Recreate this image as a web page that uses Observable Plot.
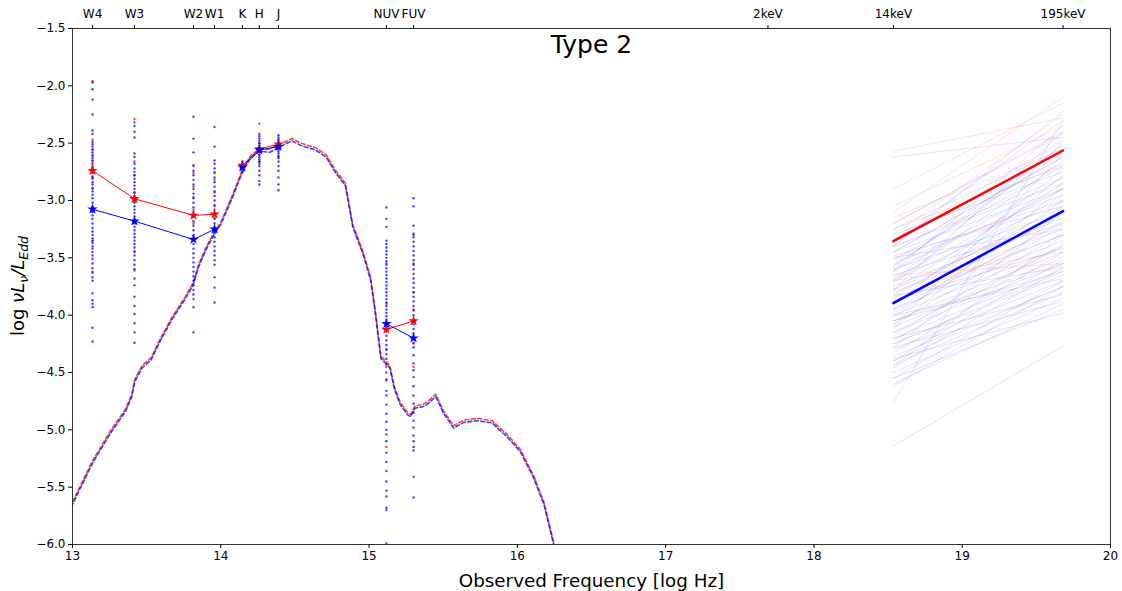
<!DOCTYPE html>
<html>
<head>
<meta charset="utf-8">
<script src="https://cdn.jsdelivr.net/npm/d3@7"></script>
<script src="https://cdn.jsdelivr.net/npm/@observablehq/plot@0.6"></script>
<style>
  html, body { margin: 0; padding: 0; background: #fff; }
  svg { display: block; }
</style>
</head>
<body>
<div id="chart"></div>
<script>
// ---------- data ----------
const bands = ["W4", "W3", "W2", "W1", "K", "H", "J", "NUV", "FUV"];
const bandNu = [13.135, 13.418, 13.816, 13.958, 14.146, 14.26, 14.389, 15.117, 15.30];
const bandGroup = ["WISE", "WISE", "WISE", "WISE", "2MASS", "2MASS", "2MASS", "GALEX", "GALEX"];
const xrayLabels = ["2keV", "14keV", "195keV"];
const xrayNu = [17.69, 18.536, 19.68];

const redMedian  = [-2.74, -2.985, -3.13, -3.12, -2.695, -2.55, -2.51, -4.125, -4.05];
const blueMedian = [-3.076, -3.18, -3.34, -3.25, -2.71, -2.56, -2.53, -4.075, -4.20];

// individual photometric points per band
const bluePoints = {
  W4: [-1.97,-2.03,-2.12,-2.25,-2.39,-2.42,-2.49,-2.51,-2.53,-2.56,-2.58,-2.61,-2.63,-2.65,-2.68,-2.70,-2.72,-2.76,-2.79,-2.81,-2.84,-2.86,-2.89,-2.92,-2.95,-2.98,-3.02,-3.06,-3.10,-3.13,-3.16,-3.20,-3.24,-3.27,-3.30,-3.33,-3.35,-3.37,-3.40,-3.42,-3.45,-3.48,-3.51,-3.55,-3.59,-3.63,-3.67,-3.70,-3.81,-3.87,-3.90,-3.93,-4.11,-4.23],
  W3: [-2.35,-2.40,-2.45,-2.59,-2.62,-2.68,-2.72,-2.75,-2.78,-2.81,-2.84,-2.87,-2.90,-2.93,-2.96,-2.99,-3.02,-3.05,-3.08,-3.11,-3.14,-3.17,-3.20,-3.23,-3.26,-3.29,-3.32,-3.35,-3.38,-3.41,-3.45,-3.48,-3.52,-3.56,-3.60,-3.68,-3.74,-3.84,-3.92,-3.99,-4.07,-4.15,-4.24],
  W2: [-2.27,-2.46,-2.58,-2.70,-2.74,-2.78,-2.82,-2.86,-2.90,-2.94,-2.98,-3.02,-3.06,-3.10,-3.14,-3.18,-3.22,-3.26,-3.30,-3.34,-3.38,-3.42,-3.46,-3.50,-3.54,-3.58,-3.62,-3.66,-3.70,-3.74,-3.78,-3.82,-3.86,-3.93,-4.15],
  W1: [-2.36,-2.53,-2.65,-2.68,-2.72,-2.76,-2.80,-2.84,-2.88,-2.92,-2.96,-3.00,-3.04,-3.08,-3.12,-3.16,-3.20,-3.24,-3.28,-3.32,-3.36,-3.40,-3.44,-3.48,-3.52,-3.56,-3.67,-3.76,-3.89],
  K:  [-2.66,-2.69,-2.71,-2.73,-2.75],
  H:  [-2.42,-2.44,-2.46,-2.48,-2.50,-2.52,-2.54,-2.56,-2.58,-2.60,-2.62,-2.64,-2.66,-2.68,-2.70,-2.74,-2.78,-2.83,-2.86],
  J:  [-2.43,-2.45,-2.47,-2.49,-2.51,-2.53,-2.55,-2.57,-2.59,-2.61,-2.63,-2.66,-2.70,-2.74,-2.80,-2.86,-2.91],
  NUV:[-3.06,-3.16,-3.23,-3.35,-3.38,-3.41,-3.44,-3.47,-3.50,-3.53,-3.56,-3.59,-3.62,-3.65,-3.68,-3.71,-3.74,-3.77,-3.80,-3.83,-3.86,-3.89,-3.92,-3.95,-3.98,-4.01,-4.04,-4.07,-4.10,-4.14,-4.18,-4.22,-4.26,-4.30,-4.34,-4.38,-4.43,-4.50,-4.56,-4.66,-4.70,-4.78,-4.86,-4.93,-5.00,-5.04,-5.10,-5.20,-5.28,-5.36,-5.45,-5.53,-5.58,-5.68,-5.70,-5.99],
  FUV:[-2.98,-3.05,-3.22,-3.29,-3.32,-3.36,-3.40,-3.44,-3.48,-3.52,-3.56,-3.60,-3.64,-3.68,-3.72,-3.76,-3.80,-3.84,-3.88,-3.92,-3.96,-4.00,-4.04,-4.08,-4.12,-4.16,-4.20,-4.24,-4.28,-4.35,-4.42,-4.48,-4.54,-4.62,-4.70,-4.77,-4.85,-4.92,-4.98,-5.05,-5.10,-5.15,-5.18,-5.41,-5.59]
};
const redPoints = {
  W4: [-1.96,-2.47,-2.55,-2.60,-2.66,-2.71,-2.75,-2.80,-2.90,-3.05,-3.35,-3.62],
  W3: [-2.29,-2.32,-2.66,-2.78,-2.93,-3.01,-3.18,-3.44,-3.61],
  W2: [-2.69,-2.76,-2.88,-2.97,-3.08,-3.20,-3.31],
  W1: [-2.75,-2.82,-2.93,-3.05,-3.15],
  K:  [-2.68,-2.70],
  H:  [-2.33,-2.50,-2.60,-2.66],
  J:  [-2.47,-2.55,-2.62],
  NUV:[-3.55,-3.90,-4.12,-4.30,-4.45,-4.57,-5.15],
  FUV:[-3.30,-3.55,-3.80,-3.95,-4.05,-4.25,-4.45]
};

// template SED (log nu, log nuLnu/LEdd)
const modelNu = [13.0,13.135,13.256,13.357,13.40,13.42,13.47,13.53,13.59,13.67,13.76,13.816,13.85,13.90,13.958,14.0,14.08,14.146,14.20,14.26,14.33,14.40,14.48,14.54,14.64,14.71,14.77,14.84,14.89,14.96,15.01,15.04,15.08,15.12,15.14,15.17,15.21,15.26,15.28,15.31,15.36,15.39,15.45,15.50,15.57,15.64,15.73,15.83,15.93,16.02,16.11,16.18,16.245,16.27];
const modelRed  = [-5.63,-5.27,-5.01,-4.82,-4.69,-4.56,-4.44,-4.37,-4.21,-4.02,-3.84,-3.71,-3.56,-3.41,-3.27,-3.19,-2.95,-2.73,-2.61,-2.55,-2.55,-2.51,-2.46,-2.50,-2.54,-2.60,-2.73,-2.85,-3.21,-3.45,-3.67,-3.94,-4.36,-4.41,-4.44,-4.62,-4.76,-4.85,-4.865,-4.79,-4.78,-4.76,-4.69,-4.83,-4.965,-4.915,-4.90,-4.92,-5.04,-5.17,-5.40,-5.635,-5.98,-6.10];
const modelBlue = [-5.65,-5.29,-5.03,-4.84,-4.71,-4.58,-4.46,-4.39,-4.23,-4.04,-3.86,-3.73,-3.58,-3.43,-3.29,-3.21,-2.97,-2.75,-2.63,-2.57,-2.58,-2.53,-2.48,-2.52,-2.56,-2.62,-2.75,-2.87,-3.23,-3.47,-3.69,-3.96,-4.38,-4.43,-4.46,-4.64,-4.78,-4.87,-4.885,-4.81,-4.80,-4.78,-4.71,-4.85,-4.985,-4.935,-4.92,-4.94,-5.06,-5.19,-5.42,-5.655,-6.00,-6.12];

// X-ray: (14keV value, 195keV value) per object
const blueXray = [
  [-2.62,-2.45],[-3.20,-2.40],[-3.25,-2.55],[-3.30,-2.75],[-3.35,-2.30],[-3.40,-2.85],[-3.45,-2.62],[-3.48,-3.05],
  [-3.52,-2.70],[-3.55,-2.95],[-3.58,-2.52],[-3.60,-3.10],[-3.62,-2.80],[-3.65,-3.20],[-3.68,-2.90],[-3.70,-3.00],
  [-3.72,-2.65],[-3.75,-3.15],[-3.78,-2.85],[-3.80,-3.25],[-3.82,-3.05],[-3.85,-2.95],[-3.88,-3.30],[-3.90,-3.12],
  [-3.92,-2.72],[-3.95,-3.35],[-3.98,-3.18],[-4.00,-3.40],[-4.02,-3.00],[-4.05,-3.45],[-4.08,-3.22],[-4.10,-3.50],
  [-4.12,-2.88],[-4.15,-3.55],[-4.18,-3.28],[-4.20,-3.60],[-4.22,-3.38],[-4.25,-3.65],[-4.28,-3.10],[-4.30,-3.70],
  [-4.33,-3.45],[-4.36,-3.75],[-4.40,-3.52],[-4.43,-3.80],[-4.46,-3.58],[-4.50,-3.85],[-4.55,-3.70],[-4.60,-3.90],
  [-4.76,-2.30],[-4.55,-3.95],[-5.14,-4.27],[-3.40,-2.22],[-3.57,-2.58],[-3.78,-2.40],[-4.10,-2.60],[-3.33,-2.68],
  [-3.50,-3.25],[-4.05,-3.62],[-4.38,-3.98],[-4.20,-3.82],[-3.62,-2.35],[-3.87,-3.42],[-4.00,-3.68],[-3.70,-2.50],
  [-4.45,-3.30],[-3.95,-2.78],[-4.28,-3.88],[-3.45,-2.90],[-4.62,-3.75],[-3.83,-3.58]
];
const redXray = [
  [-2.57,-2.28],[-2.90,-2.15],[-3.05,-2.35],[-3.10,-2.10],[-3.15,-2.55],[-3.20,-2.42],[-3.25,-2.70],[-3.30,-2.25],
  [-3.40,-2.80],[-3.45,-2.62],[-3.50,-3.00],[-3.60,-2.90],[-3.70,-3.45],[-3.78,-3.10],[-3.85,-3.30],[-3.95,-3.20],
  [-4.05,-3.55],[-4.15,-3.40],[-4.25,-3.62],[-4.40,-3.75],[-3.35,-2.48],[-3.65,-3.55]
];
const redXrayMedian = [-3.355, -2.564];
const blueXrayMedian = [-3.895, -3.093];

// ---------- tables built from the arrays ----------
const medians = [];
bands.forEach((b, i) => {
  medians.push({nu: bandNu[i], v: redMedian[i], grp: bandGroup[i], type: "red"});
});
bands.forEach((b, i) => {
  medians.push({nu: bandNu[i], v: blueMedian[i], grp: bandGroup[i], type: "blue"});
});
const redDots = [], blueDots = [];
bands.forEach((b, i) => {
  redPoints[b].forEach(v => redDots.push({nu: bandNu[i], v}));
  bluePoints[b].forEach(v => blueDots.push({nu: bandNu[i], v}));
});
const modelR = modelNu.map((nu, i) => ({nu, v: modelRed[i]}));
const modelB = modelNu.map((nu, i) => ({nu, v: modelBlue[i]}));
function xrayRows(pairs, tag) {
  const rows = [];
  pairs.forEach((p, k) => {
    rows.push({nu: xrayNu[1], v: p[0], id: tag + k});
    rows.push({nu: xrayNu[2], v: p[1], id: tag + k});
  });
  return rows;
}
const blueXrows = xrayRows(blueXray, "b");
const redXrows = xrayRows(redXray, "r");
const redXmed = [{nu: xrayNu[1], v: redXrayMedian[0]}, {nu: xrayNu[2], v: redXrayMedian[1]}];
const blueXmed = [{nu: xrayNu[1], v: blueXrayMedian[0]}, {nu: xrayNu[2], v: blueXrayMedian[1]}];

const topTicks = bandNu.concat(xrayNu);
const topLabels = bands.concat(xrayLabels);
const topMap = new Map(topTicks.map((t, i) => [t, topLabels[i]]));
const xTicks = [13, 14, 15, 16, 17, 18, 19, 20];
const yTicks = [-6.0,-5.5,-5.0,-4.5,-4.0,-3.5,-3.0,-2.5,-2.0,-1.5];

const RED = "#ff0000", BLUE = "#0000ff";
const fmtY = d => d.toFixed(1).replace("-", "\u2212");

const plot = Plot.plot({
  width: 1122,
  height: 591,
  marginLeft: 72,
  marginRight: 12,
  marginTop: 28,
  marginBottom: 47,
  style: {fontFamily: "'DejaVu Sans', sans-serif", fontSize: "12px", color: "#000", background: "#fff"},
  x: {domain: [13, 20]},
  y: {domain: [-6, -1.5]},
  marks: [
    // X-ray individual objects
    Plot.line(blueXrows, {x: "nu", y: "v", z: "id", stroke: BLUE, strokeOpacity: 0.12, strokeWidth: 1}),
    Plot.line(redXrows, {x: "nu", y: "v", z: "id", stroke: RED, strokeOpacity: 0.12, strokeWidth: 1}),
    Plot.line(redXmed, {x: "nu", y: "v", stroke: RED, strokeWidth: 2.5}),
    Plot.line(blueXmed, {x: "nu", y: "v", stroke: BLUE, strokeWidth: 2.5}),
    // template SEDs (dashed)
    Plot.line(modelR, {x: "nu", y: "v", stroke: RED, strokeWidth: 1.6, strokeOpacity: 0.75, strokeDasharray: "4,2.5", clip: true}),
    Plot.line(modelB, {x: "nu", y: "v", stroke: BLUE, strokeWidth: 1.6, strokeOpacity: 0.75, strokeDasharray: "4,2.5", strokeDashoffset: 3, clip: true}),
    // individual photometry
    Plot.dot(redDots, {x: "nu", y: "v", r: 1.2, fill: RED, fillOpacity: 0.75, clip: true}),
    Plot.dot(blueDots, {x: "nu", y: "v", r: 1.2, fill: BLUE, fillOpacity: 0.75, clip: true}),
    // medians
    Plot.line(medians, {x: "nu", y: "v", z: d => d.type + d.grp, stroke: d => d.type === "red" ? RED : BLUE, strokeWidth: 1}),
    Plot.dot(medians, {x: "nu", y: "v", symbol: "star", r: 3.3, fill: d => d.type === "red" ? RED : BLUE, stroke: "none"}),
    // frame & axes
    Plot.frame({stroke: "#333", strokeWidth: 1}),
    Plot.axisX(xTicks, {anchor: "bottom", tickSize: 4, tickPadding: 3, fontSize: 12, label: null, tickFormat: d => String(d)}),
    Plot.axisX(topTicks, {anchor: "top", tickSize: 4, tickPadding: 7, fontSize: 12, label: null, tickFormat: d => topMap.get(d)}),
    Plot.axisY(yTicks, {anchor: "left", tickSize: 4, tickPadding: 3, fontSize: 12, label: null, tickFormat: fmtY}),
    // title and x label
    Plot.text(["Type 2"], {frameAnchor: "top", dy: 7, fontSize: 25, fill: "#000"}),
    Plot.text(["Observed Frequency [log Hz]"], {frameAnchor: "bottom", dy: 42, fontSize: 18.3, fill: "#000"})
  ]
});

// y axis label with sub-scripts
const svg = d3.select(plot);
const yl = svg.append("text")
  .attr("transform", "translate(24,286) rotate(-90)")
  .attr("text-anchor", "middle")
  .attr("font-size", 18)
  .attr("fill", "#000")
  .attr("font-family", "'DejaVu Sans', sans-serif");
yl.append("tspan").text("log ");
yl.append("tspan").attr("font-style", "italic").text("\u03BDL");
yl.append("tspan").attr("font-style", "italic").attr("font-size", 12.5).attr("dy", 4).text("\u03BD");
yl.append("tspan").attr("font-style", "italic").attr("dy", -4).text("/L");
yl.append("tspan").attr("font-style", "italic").attr("font-size", 12.5).attr("dy", 4).text("Edd");

document.getElementById("chart").appendChild(plot);
</script>
</body>
</html>
